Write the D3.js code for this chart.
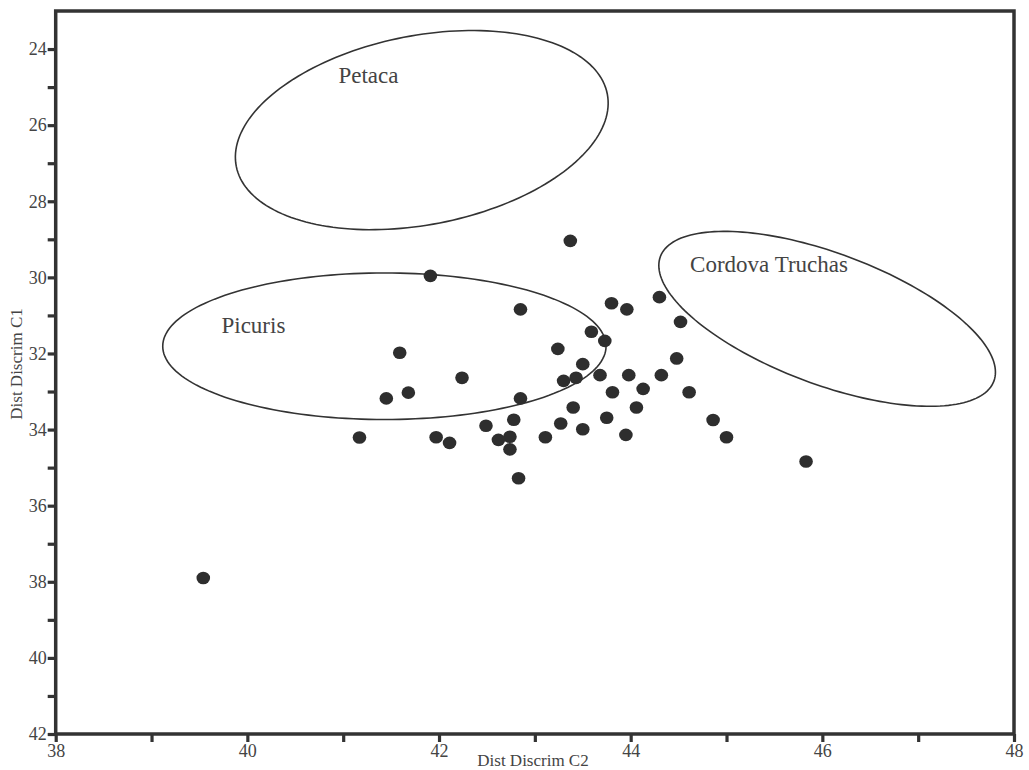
<!DOCTYPE html>
<html>
<head>
<meta charset="utf-8">
<script src="https://cdn.jsdelivr.net/npm/d3@7"></script>
<style>
  body { margin: 0; background: #fff; }
  svg { display: block; }
  text { font-family: "Liberation Serif", "Times New Roman", serif; }
</style>
</head>
<body>
<svg id="drawing_region"></svg>
<script>
// sample scores: discriminant C2 (x) and C1 (y)
const c2Values = [43.37, 41.91, 42.85, 43.80, 43.96, 44.30, 44.52, 43.59, 43.73, 41.59,
                  43.24, 44.48, 43.50, 42.24, 43.43, 43.30, 43.68, 43.98, 44.32, 44.13,
                  43.81, 44.61, 41.68, 41.45, 42.85, 43.40, 44.06, 42.78, 43.75, 43.27,
                  42.49, 43.50, 44.86, 45.00, 41.17, 41.97, 42.11, 42.74, 42.62, 42.74,
                  43.11, 43.95, 42.83, 45.83, 39.54];
const c1Values = [29.04, 29.96, 30.84, 30.68, 30.84, 30.52, 31.17, 31.43, 31.67, 31.98,
                  31.88, 32.13, 32.28, 32.64, 32.64, 32.72, 32.57, 32.57, 32.57, 32.93,
                  33.02, 33.02, 33.03, 33.18, 33.18, 33.42, 33.42, 33.74, 33.69, 33.84,
                  33.90, 33.99, 33.75, 34.20, 34.21, 34.20, 34.35, 34.19, 34.27, 34.52,
                  34.20, 34.14, 35.28, 34.84, 37.90];

// group ellipses: centre and the two half-axis vectors, in data units
const groupNames = ["Petaca", "Picuris", "Cordova Truchas"];
const groupCx = [41.82, 41.43, 46.05];
const groupCy = [26.13, 31.81, 31.09];
const groupU = [[1.936, -0.949], [2.313, 0], [1.740, 1.637]];
const groupV = [[0.188, 2.439], [0, 1.926], [-0.239, 1.614]];
const labelX = [40.95, 39.73, 44.62];
const labelY = [24.89, 31.46, 29.85];

const xTicks = d3.range(38, 49, 1);
const yTicks = d3.range(24, 43, 1);

const config = {
    width: 1029,
    height: 770,
    left: 55.7, right: 1014, top: 11, bottom: 734
};

const svg = d3.select('#drawing_region')
    .attr('width', config.width)
    .attr('height', config.height);

const xscale = d3.scaleLinear()
    .domain([38, 48])
    .range([config.left, config.right]);

const yscale = d3.scaleLinear()
    .domain([23, 42])
    .range([config.top, config.bottom]);

const evenOnly = d => (d % 2 === 0 ? d : '');

const xaxis = d3.axisBottom(xscale)
    .tickValues(xTicks)
    .tickFormat(evenOnly)
    .tickSize(8)
    .tickPadding(2);

const yaxis = d3.axisLeft(yscale)
    .tickValues(yTicks)
    .tickFormat(evenOnly)
    .tickSize(8)
    .tickPadding(1);

const styleAxis = g => {
    g.select('.domain').remove();
    g.selectAll('.tick line').attr('stroke', '#333').attr('stroke-width', 3.2);
    g.selectAll('.tick text')
        .attr('fill', '#444')
        .style('font-size', '18px')
        .style('font-family', '"Liberation Serif", serif');
};

svg.append('g')
    .attr('transform', `translate(0, ${config.bottom})`)
    .call(xaxis)
    .call(styleAxis);

svg.append('g')
    .attr('transform', `translate(${config.left}, 0)`)
    .call(yaxis)
    .call(styleAxis);

// frame
svg.append('rect')
    .attr('x', config.left)
    .attr('y', config.top)
    .attr('width', config.right - config.left)
    .attr('height', config.bottom - config.top)
    .attr('fill', 'none')
    .attr('stroke', '#333')
    .attr('stroke-width', 3.5);

// ellipses
const ellipseLine = d3.line()
    .x(d => xscale(d[0]))
    .y(d => yscale(d[1]))
    .curve(d3.curveLinearClosed);

const angles = d3.range(0, 2 * Math.PI, Math.PI / 90);

groupNames.forEach((name, i) => {
    const pts = angles.map(t => [
        groupCx[i] + groupU[i][0] * Math.cos(t) + groupV[i][0] * Math.sin(t),
        groupCy[i] + groupU[i][1] * Math.cos(t) + groupV[i][1] * Math.sin(t)
    ]);
    svg.append('path')
        .attr('d', ellipseLine(pts))
        .attr('fill', 'none')
        .attr('stroke', '#333')
        .attr('stroke-width', 1.6);

    svg.append('text')
        .attr('x', xscale(labelX[i]))
        .attr('y', yscale(labelY[i]))
        .attr('fill', '#444')
        .style('font-size', '23px')
        .text(name);
});

// points
svg.append('g')
    .selectAll('ellipse')
    .data(c2Values.map((x, i) => ({ x: x, y: c1Values[i] })))
    .join('ellipse')
    .attr('cx', d => xscale(d.x))
    .attr('cy', d => yscale(d.y))
    .attr('rx', 6.8)
    .attr('ry', 6.3)
    .attr('fill', '#2e2e2e');

// axis titles
svg.append('text')
    .attr('x', 533)
    .attr('y', 766)
    .attr('text-anchor', 'middle')
    .attr('fill', '#444')
    .style('font-size', '17px')
    .text('Dist Discrim C2');

svg.append('text')
    .attr('transform', 'translate(22, 364) rotate(-90)')
    .attr('text-anchor', 'middle')
    .attr('fill', '#444')
    .style('font-size', '17px')
    .text('Dist Discrim C1');
</script>
</body>
</html>
